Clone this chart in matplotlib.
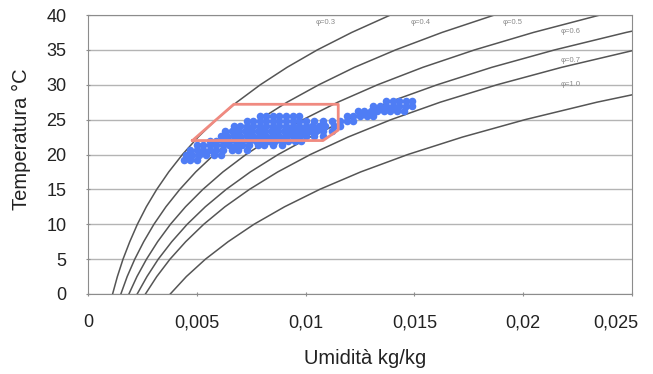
import matplotlib.pyplot as plt
import matplotlib.transforms as mtransforms

plt.rcParams['font.family'] = ['Liberation Sans', 'DejaVu Sans']

# Curve di umidità relativa: temperatura (°C) e umidità assoluta (kg/kg)
temperature = [0, 2.5, 5, 7.5, 10, 12.5, 15, 17.5, 20, 22.5, 25, 27.5, 30, 32.5, 35, 37.5, 40]

umid_03 = [0.00113, 0.00135, 0.00161, 0.00192, 0.00227, 0.00268, 0.00316, 0.00371, 0.00434,
           0.00506, 0.00589, 0.00684, 0.00792, 0.00915, 0.01054, 0.01212, 0.01390]
umid_04 = [0.00151, 0.00180, 0.00215, 0.00256, 0.00303, 0.00358, 0.00422, 0.00495, 0.00580,
           0.00677, 0.00788, 0.00915, 0.01061, 0.01225, 0.01414, 0.01627, 0.01868]
umid_05 = [0.00188, 0.00225, 0.00269, 0.00320, 0.00379, 0.00448, 0.00528, 0.00620, 0.00726,
           0.00849, 0.00988, 0.01148, 0.01331, 0.01539, 0.01777, 0.02047, 0.02353]
umid_06 = [0.00226, 0.00271, 0.00323, 0.00385, 0.00456, 0.00539, 0.00635, 0.00746, 0.00874,
           0.01021, 0.01190, 0.01382, 0.01605, 0.01856, 0.02145, 0.02473, 0.02845]
umid_07 = [0.00264, 0.00316, 0.00377, 0.00449, 0.00532, 0.00629, 0.00742, 0.00872, 0.01022,
           0.01195, 0.01393, 0.01619, 0.01880, 0.02177, 0.02517]
umid_10 = [0.00378, 0.00452, 0.00540, 0.00644, 0.00763, 0.00903, 0.01065, 0.01253, 0.01470,
           0.01721, 0.02009, 0.02339, 0.02721]

curve = [umid_03, umid_04, umid_05, umid_06, umid_07, umid_10]
etichette_phi = ["φ=0.3", "φ=0.4", "φ=0.5", "φ=0.6", "φ=0.7", "φ=1.0"]
pos_etichette = [(0.0109, 38.9), (0.0153, 38.9), (0.0195, 38.9),
                 (0.0222, 37.6), (0.0222, 33.5), (0.0222, 30.0)]

# Zona di comfort
zona_umid = [0.0048, 0.0067, 0.0115, 0.0115, 0.0108, 0.0048]
zona_temp = [22.0, 27.2, 27.2, 23.5, 22.0, 22.0]

# Misure (temperatura, umidità)
misure = [
    (19.2, [0.0044, 0.0047, 0.0050]),
    (19.9, [0.0045, 0.0048, 0.0051, 0.0054, 0.0058, 0.0061]),
    (20.6, [0.0047, 0.0050, 0.0053, 0.0056, 0.0059, 0.0062, 0.0066, 0.0069, 0.0073]),
    (21.3, [0.0050, 0.0053, 0.0056, 0.0059, 0.0062, 0.0065, 0.0068, 0.0071, 0.0074,
            0.0078, 0.0081, 0.0085, 0.0089]),
    (22.0, [0.0056, 0.0059, 0.0062, 0.0065, 0.0068, 0.0071, 0.0074, 0.0077, 0.0080,
            0.0083, 0.0086, 0.0089, 0.0092, 0.0095, 0.0098]),
    (22.7, [0.0061, 0.0064, 0.0067, 0.0070, 0.0073, 0.0076, 0.0079, 0.0082, 0.0085,
            0.0088, 0.0091, 0.0094, 0.0097, 0.0100, 0.0104, 0.0108]),
    (23.4, [0.0063, 0.0066, 0.0069, 0.0072, 0.0075, 0.0078, 0.0081, 0.0084, 0.0087,
            0.0090, 0.0093, 0.0096, 0.0099, 0.0102, 0.0105, 0.0108, 0.0112]),
    (24.1, [0.0067, 0.0070, 0.0073, 0.0076, 0.0079, 0.0082, 0.0085, 0.0088, 0.0091,
            0.0094, 0.0097, 0.0100, 0.0103, 0.0106, 0.0109, 0.0113, 0.0116]),
    (24.8, [0.0073, 0.0076, 0.0079, 0.0082, 0.0085, 0.0088, 0.0091, 0.0094, 0.0097,
            0.0100, 0.0104, 0.0108, 0.0112, 0.0116, 0.0119, 0.0122]),
    (25.5, [0.0079, 0.0082, 0.0085, 0.0088, 0.0091, 0.0094, 0.0097,
            0.0119, 0.0122, 0.0125, 0.0128, 0.0131]),
    (26.2, [0.0124, 0.0127, 0.0130, 0.0133, 0.0136, 0.0139, 0.0142, 0.0145]),
    (26.9, [0.0131, 0.0134, 0.0137, 0.0140, 0.0143, 0.0146, 0.0149]),
    (27.6, [0.0137, 0.0140, 0.0143, 0.0146, 0.0149]),
]

fig = plt.figure(figsize=(6.53, 3.74), dpi=100)
ax = fig.add_axes([88 / 653, 1 - 294 / 374, 544 / 653, 279 / 374])

ax.set_axisbelow(True)
ax.grid(axis='y', color='#b4b4b4', linewidth=1)

for umid in curve:
    ax.plot(umid, temperature[:len(umid)], color='#555555', linewidth=1.1)

for testo, (xt, yt) in zip(etichette_phi, pos_etichette):
    ax.text(xt, yt, testo, fontsize=5.5, color='#8a8a8a', ha='center', va='center')

for t, valori in misure:
    ax.scatter(valori, [t] * len(valori), s=30, color='#4f7df5', linewidths=0, zorder=3)

ax.plot(zona_umid, zona_temp, color='#f08a80', linewidth=2, zorder=4)

ax.set_xlim(0, 0.025)
ax.set_ylim(0, 40)
ax.set_xticks([0, 0.005, 0.01, 0.015, 0.02, 0.025])
ax.set_xticklabels(["0", "0,005", "0,01", "0,015", "0,02", "0,025"])
ax.set_yticks(range(0, 41, 5))

for lato in ax.spines.values():
    lato.set_color('#8c8c8c')
ax.tick_params(direction='inout', length=3, color='#8c8c8c', labelsize=13, labelcolor='#222222')
ax.tick_params(axis='y', pad=14)
ax.tick_params(axis='x', pad=13)

# l'ultima etichetta resta dentro la figura
ultima = ax.get_xticklabels()[-1]
ultima.set_transform(ultima.get_transform() + mtransforms.ScaledTranslation(-12 / 72, 0, fig.dpi_scale_trans))

ax.set_ylabel("Temperatura °C", fontsize=14.5, color='#222222')
ax.yaxis.set_label_coords(-0.105, 0.556)
ax.set_xlabel("Umidità kg/kg", fontsize=14.5, color='#222222')
ax.xaxis.set_label_coords(0.509, -0.197)

plt.savefig("out.png", dpi=100)
